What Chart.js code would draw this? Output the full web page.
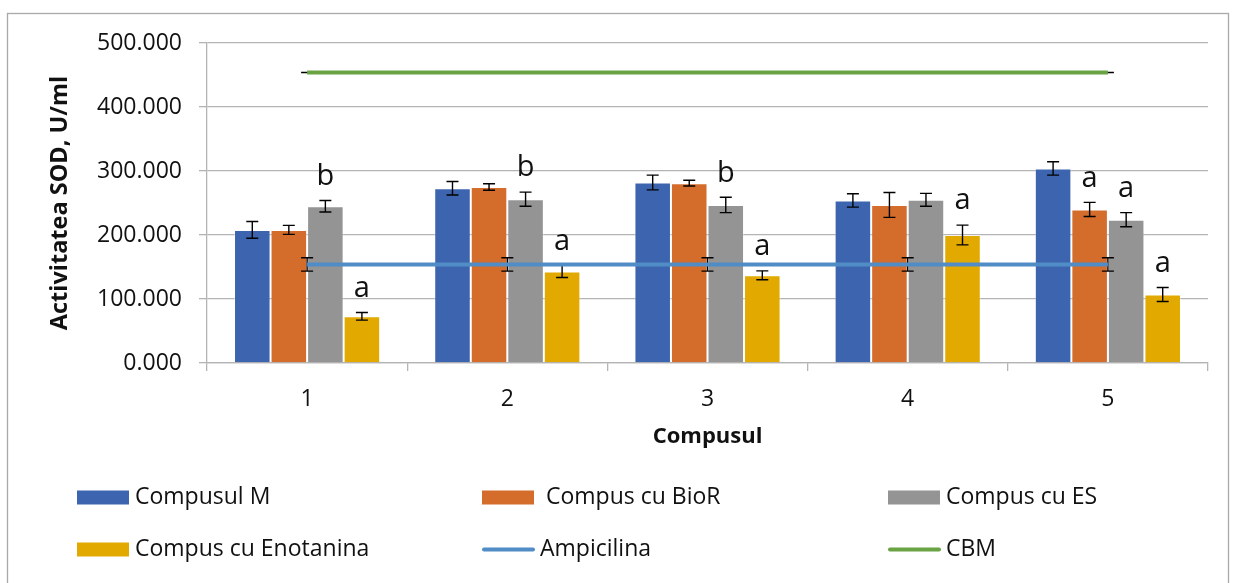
<!DOCTYPE html>
<html>
<head>
<meta charset="utf-8">
<script src="https://cdn.jsdelivr.net/npm/chart.js@4.4.1/dist/chart.umd.min.js"></script>
<style>
  html, body { margin: 0; padding: 0; background: #fff; }
  #wrap { position: relative; width: 1235px; height: 583px; overflow: hidden; }
</style>
</head>
<body>
<div id="wrap"><canvas id="chart" width="1235" height="583"></canvas></div>
<script>
// ---- data ----
const categories = ['1', '2', '3', '4', '5'];

const compusulM = [208, 273, 282, 254, 304];
const compusulMErr = [13, 10.5, 11.5, 10.5, 10.5];

const compusBioR = [208, 275, 281, 247, 240];
const compusBioRErr = [7, 5, 4.5, 19.5, 11];

const compusES = [245, 256, 247, 255, 224];
const compusESErr = [9, 11, 12, 10, 11];

const compusEnotanina = [73, 143, 137, 200, 107];
const compusEnotaninaErr = [6, 9.5, 7, 15.5, 11];

const ampicilina = [154, 154, 154, 154, 154];
const ampicilinaErr = [10.5, 10.5, 10.5, 10.5, 10.5];

const cbm = [454, 454, 454, 454, 454];
const cbmErr = [0, 0, 0, 0, 0];

// significance letters shown above the bars
const lettersM = ['', '', '', '', ''];
const lettersBioR = ['', '', '', '', 'a'];
const lettersES = ['b', 'b', 'b', '', 'a'];
const lettersEnotanina = ['a', 'a', 'a', 'a', 'a'];

const yTickMin = 0;
const yTickMax = 500;
const yTickStep = 100;

// ---- styling ----
const FONT = "'Open Sans', 'Noto Sans', sans-serif";
const TEXT = '#111111';
const GRID = '#b4b4b4';

const COLORS = {
  m: '#3d64ae',
  bior: '#d46c2b',
  es: '#949494',
  eno: '#e2aa00',
  amp: '#508cc6',
  cbm: '#69a343'
};

function barSet(label, data, err, letters, color) {
  return {
    type: 'bar', label, data, errors: err, letters,
    backgroundColor: color,
    borderColor: 'rgba(255,255,255,0.35)',
    borderWidth: 1,
    categoryPercentage: 0.73,
    barPercentage: 1.0,
    order: 2
  };
}
function lineSet(label, data, err, color) {
  return {
    type: 'line', label, data, errors: err,
    borderColor: color, backgroundColor: color,
    borderWidth: 4, pointRadius: 0, fill: false, tension: 0,
    order: 1
  };
}

// error bars: under the line of line series, over the bar of bar series
function drawErrors(chart, index) {
  const ds = chart.data.datasets[index];
  if (!ds.errors) return;
  const meta = chart.getDatasetMeta(index);
  const y = chart.scales.y;
  const ctx = chart.ctx;
  ctx.save();
  ctx.strokeStyle = '#000';
  ctx.lineWidth = 1.4;
  meta.data.forEach((el, i) => {
    const v = ds.data[i], e = ds.errors[i];
    const x = el.x;
    const top = y.getPixelForValue(v + e);
    const bot = y.getPixelForValue(v - e);
    ctx.beginPath();
    ctx.moveTo(x, top); ctx.lineTo(x, bot);
    ctx.moveTo(x - 6, top); ctx.lineTo(x + 6, top);
    ctx.moveTo(x - 6, bot); ctx.lineTo(x + 6, bot);
    ctx.stroke();
  });
  ctx.restore();
}

const errorBarsPlugin = {
  id: 'errorBars',
  beforeDatasetDraw(chart, args) {
    if (chart.data.datasets[args.index].type === 'line') drawErrors(chart, args.index);
  },
  afterDatasetDraw(chart, args) {
    if (chart.data.datasets[args.index].type !== 'line') drawErrors(chart, args.index);
  }
};

const lettersPlugin = {
  id: 'letters',
  afterDatasetsDraw(chart) {
    const ctx = chart.ctx;
    const y = chart.scales.y;
    ctx.save();
    ctx.fillStyle = TEXT;
    ctx.font = `29px ${FONT}`;
    ctx.textAlign = 'center';
    ctx.textBaseline = 'middle';
    chart.data.datasets.forEach((ds, di) => {
      if (!ds.letters) return;
      const meta = chart.getDatasetMeta(di);
      meta.data.forEach((el, i) => {
        const t = ds.letters[i];
        if (!t) return;
        const top = y.getPixelForValue(ds.data[i] + ds.errors[i]);
        ctx.fillText(t, el.x, top - 24);
      });
    });
    ctx.restore();
  }
};

const frameAndLegendPlugin = {
  id: 'frameLegend',
  beforeDraw(chart) {
    const ctx = chart.ctx;
    ctx.save();
    ctx.fillStyle = '#fff';
    ctx.fillRect(0, 0, chart.width, chart.height);
    ctx.strokeStyle = '#a9a9a9';
    ctx.lineWidth = 1.3;
    ctx.strokeRect(7.5, 13.5, 1221, 620);
    ctx.restore();
  },
  afterDraw(chart) {
    const ctx = chart.ctx;
    const cols = [77, 482, 888];
    const rows = [497.5, 549.5];
    ctx.save();
    ctx.font = `23px ${FONT}`;
    ctx.fillStyle = TEXT;
    ctx.textBaseline = 'middle';
    ctx.textAlign = 'left';
    chart.data.datasets.forEach((ds, i) => {
      const x = cols[i % 3];
      const yc = rows[Math.floor(i / 3)];
      if (ds.type === 'bar') {
        ctx.fillStyle = ds.backgroundColor;
        ctx.fillRect(x, yc - 7, 52, 14);
        ctx.fillStyle = TEXT;
        ctx.fillText(ds.label, x + 58, yc);
      } else {
        ctx.strokeStyle = ds.borderColor;
        ctx.lineWidth = 4;
        ctx.lineCap = 'round';
        ctx.beginPath();
        ctx.moveTo(x + 2, yc); ctx.lineTo(x + 51, yc);
        ctx.stroke();
        ctx.fillStyle = TEXT;
        ctx.fillText(ds.label, x + 58, yc);
      }
    });
    ctx.restore();
  }
};

new Chart(document.getElementById('chart'), {
  data: {
    labels: categories,
    datasets: [
      barSet('Compusul M', compusulM, compusulMErr, lettersM, COLORS.m),
      barSet(' Compus cu BioR', compusBioR, compusBioRErr, lettersBioR, COLORS.bior),
      barSet('Compus cu ES', compusES, compusESErr, lettersES, COLORS.es),
      barSet('Compus cu Enotanina', compusEnotanina, compusEnotaninaErr, lettersEnotanina, COLORS.eno),
      lineSet('Ampicilina', ampicilina, ampicilinaErr, COLORS.amp),
      lineSet('CBM', cbm, cbmErr, COLORS.cbm)
    ]
  },
  options: {
    responsive: false,
    animation: false,
    devicePixelRatio: 1,
    layout: { padding: { left: 0, right: 27, top: 43, bottom: 130 } },
    plugins: {
      legend: { display: false },
      tooltip: { enabled: false }
    },
    scales: {
      x: {
        offset: true,
        grid: { offset: true, drawOnChartArea: false, drawTicks: true, tickLength: 8, color: GRID, lineWidth: 1.3 },
        border: { color: GRID, width: 1.3 },
        ticks: { color: TEXT, font: { family: FONT, size: 23 }, padding: 15 },
        title: { display: true, text: 'Compusul', color: TEXT, font: { family: FONT, size: 22, weight: 'bold' }, padding: { top: 0, bottom: 3 } },
        afterFit(s) { s.height = 90; }
      },
      y: {
        min: yTickMin,
        max: yTickMax,
        ticks: {
          stepSize: yTickStep,
          color: TEXT,
          font: { family: FONT, size: 23 },
          padding: 17,
          callback: v => v.toFixed(3)
        },
        grid: { color: GRID, lineWidth: 1.3, tickLength: 8 },
        border: { color: GRID, width: 1.3 },
        title: { display: true, text: 'Activitatea SOD, U/ml', color: TEXT, font: { family: FONT, size: 23.5, weight: 'bold' }, padding: { top: 46, bottom: 0 } },
        afterFit(s) { s.width = 207; }
      }
    }
  },
  plugins: [frameAndLegendPlugin, errorBarsPlugin, lettersPlugin]
});
</script>
</body>
</html>
